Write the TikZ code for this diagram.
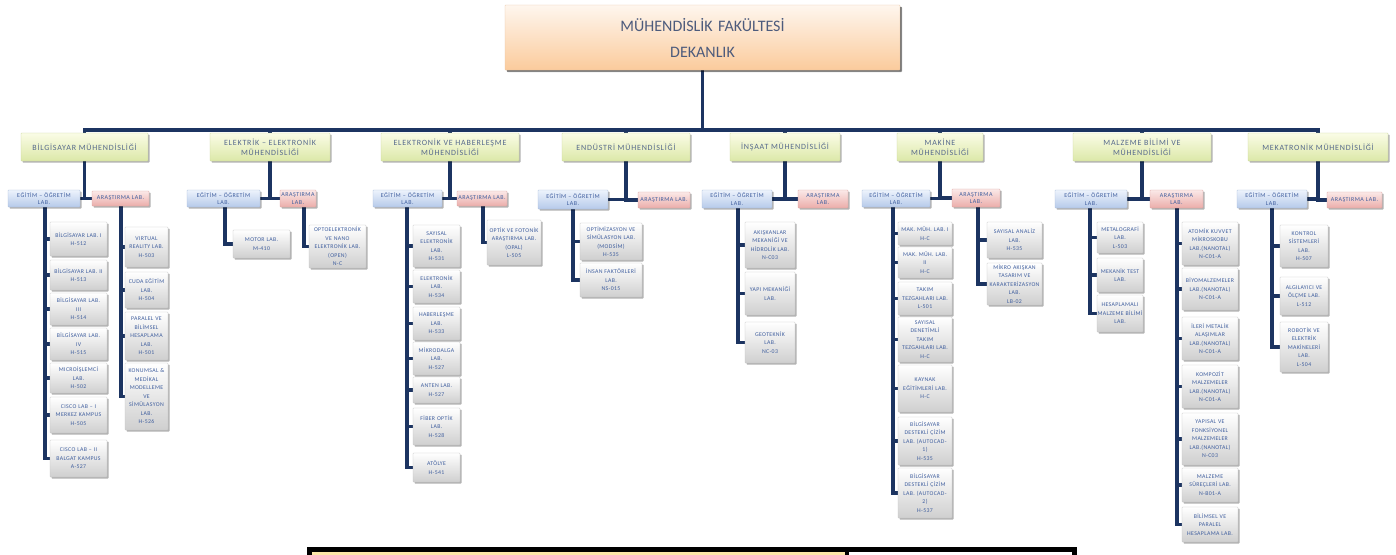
\documentclass[tikz,border=0pt]{standalone}
\usepackage{fontspec}
\setmainfont{Carlito}
\newfontfamily\leaffont[LetterSpace=6]{Carlito}
\newfontfamily\edufont[LetterSpace=8]{Carlito}
\newfontfamily\deptfont[LetterSpace=10]{Carlito}
\usetikzlibrary{shadows}
\pgfdeclarelayer{background}
\pgfsetlayers{background,main}
\definecolor{conncol}{HTML}{1C3461}
\definecolor{leaftext}{HTML}{3F5E9E}
\definecolor{depttext}{HTML}{56698C}
\definecolor{titletext}{HTML}{4D5B7C}
\definecolor{leafbot}{HTML}{CFCFCF}
\definecolor{leafborder}{HTML}{C4C4C4}
\definecolor{edutop}{HTML}{EDF3FC}
\definecolor{edubot}{HTML}{B6CAEA}
\definecolor{eduborder}{HTML}{A9BCDA}
\definecolor{restop}{HTML}{FBE9E8}
\definecolor{resbot}{HTML}{EBADAA}
\definecolor{resborder}{HTML}{DBA2A0}
\definecolor{depttop}{HTML}{FAFCE6}
\definecolor{deptbot}{HTML}{DCE8A8}
\definecolor{deptborder}{HTML}{C9D69A}
\definecolor{titletop}{HTML}{FEF6EE}
\definecolor{titlebot}{HTML}{FBCB9C}
\definecolor{titleborder}{HTML}{E8C4A0}
\definecolor{tablein}{HTML}{FCE6A8}
\newcommand\bx[7]{%
  \pgfmathsetmacro\bxcx{(#3+#5)/2}%
  \pgfmathsetmacro\bxcy{(#4+#6)/2}%
  \pgfmathsetmacro\bxw{#5-#3}%
  \pgfmathsetmacro\bxh{#6-#4}%
  \node[#2, minimum width=\bxw pt, minimum height=\bxh pt, text width=\bxw pt] (#1) at (\bxcx,\bxcy) {#7};}
\tikzset{
  conn/.style={draw=conncol, line width=3.1pt},
  basebox/.style={inner sep=0pt, align=center, rounded corners=0.6pt,
    drop shadow={shadow xshift=1.5pt, shadow yshift=-1.5pt, opacity=0.3, fill=black}},
  leaf/.style={basebox, top color=white, bottom color=leafbot, draw=leafborder, line width=0.4pt,
    font=\leaffont\fontsize{5.8}{8.5}\selectfont, text=leaftext},
  edu/.style={basebox, top color=edutop, bottom color=edubot, draw=eduborder, line width=0.4pt,
    font=\edufont\fontsize{6}{7.6}\selectfont, text=leaftext},
  res/.style={basebox, top color=restop, bottom color=resbot, draw=resborder, line width=0.4pt,
    font=\edufont\fontsize{6}{7.6}\selectfont, text=leaftext},
  dept/.style={basebox, top color=depttop, bottom color=deptbot, draw=deptborder, line width=0.4pt,
    font=\deptfont\fontsize{8}{10}\selectfont, text=depttext},
  titlebox/.style={basebox, top color=titletop, bottom color=titlebot, draw=titleborder, line width=0.4pt,
    font=\fontsize{16}{26}\selectfont, text=titletext,
    drop shadow={shadow xshift=2pt, shadow yshift=-2pt, opacity=0.35, fill=black}}
}
\begin{document}
\begin{tikzpicture}[x=1pt,y=-1pt]
\begin{pgfonlayer}{background}
\fill[white] (0,0) rectangle (1396,554);
\end{pgfonlayer}
\useasboundingbox (0,0) rectangle (1396,554);

% title
\bx{title}{titlebox}{505}{5}{900}{70}{MÜHENDİSLİK FAKÜLTESİ\\DEKANLIK}
\coordinate (busy) at (0,130);

% departments
\bx{d1}{dept}{21}{133}{148}{161}{BİLGİSAYAR MÜHENDİSLİĞİ}
\bx{d2}{dept}{210}{133}{330}{161}{ELEKTRİK – ELEKTRONİK\\MÜHENDİSLİĞİ}
\bx{d3}{dept}{381}{133}{519}{161}{ELEKTRONİK VE HABERLEŞME\\MÜHENDİSLİĞİ}
\bx{d4}{dept}{562}{133}{690}{161}{ENDÜSTRİ MÜHENDİSLİĞİ}
\bx{d5}{dept}{730}{133}{840}{161}{İNŞAAT MÜHENDİSLİĞİ}
\bx{d6}{dept}{897}{133}{983}{161}{MAKİNE\\MÜHENDİSLİĞİ}
\bx{d7}{dept}{1073}{133}{1211}{161}{MALZEME BİLİMİ VE\\MÜHENDİSLİĞİ}
\bx{d8}{dept}{1248}{133}{1388}{161}{MEKATRONİK MÜHENDİSLİĞİ}

% education / research
\bx{e1}{edu}{8}{190}{80}{207}{EĞİTİM – ÖĞRETİM\\LAB.}
\bx{a1}{res}{92}{191}{149}{206}{ARAŞTIRMA LAB.}
\bx{e2}{edu}{187}{190}{260}{207}{EĞİTİM – ÖĞRETİM\\LAB.}
\bx{a2}{res}{280}{190}{316}{207}{ARAŞTIRMA\\LAB.}
\bx{e3}{edu}{373}{190}{442}{207}{EĞİTİM – ÖĞRETİM\\LAB.}
\bx{a3}{res}{457}{191}{507}{206}{ARAŞTIRMA LAB.}
\bx{e4}{edu}{538}{190}{608}{209}{EĞİTİM – ÖĞRETİM\\LAB.}
\bx{a4}{res}{638}{192}{690}{208}{ARAŞTIRMA LAB.}
\bx{e5}{edu}{702}{190}{772}{208}{EĞİTİM – ÖĞRETİM\\LAB.}
\bx{a5}{res}{798}{190}{848}{208}{ARAŞTIRMA\\LAB.}
\bx{e6}{edu}{862}{190}{930}{207}{EĞİTİM – ÖĞRETİM\\LAB.}
\bx{a6}{res}{952}{189}{1000}{207}{ARAŞTIRMA\\LAB.}
\bx{e7}{edu}{1055}{190}{1127}{208}{EĞİTİM – ÖĞRETİM\\LAB.}
\bx{a7}{res}{1150}{190}{1203}{208}{ARAŞTIRMA\\LAB.}
\bx{e8}{edu}{1237}{190}{1307}{208}{EĞİTİM – ÖĞRETİM\\LAB.}
\bx{a8}{res}{1327}{192}{1382}{208}{ARAŞTIRMA LAB.}

% column 1
\bx{c11}{leaf}{50}{222}{107}{256}{BİLGİSAYAR LAB. I\\H-512}
\bx{c12}{leaf}{50}{260}{107}{290}{BİLGİSAYAR LAB. II\\H-513}
\bx{c13}{leaf}{50}{293}{107}{325}{BİLGİSAYAR LAB.\\III\\H-514}
\bx{c14}{leaf}{50}{328}{107}{360}{BİLGİSAYAR LAB.\\IV\\H-515}
\bx{c15}{leaf}{50}{363}{107}{393}{MICROİŞLEMCİ\\LAB.\\H-502}
\bx{c16}{leaf}{50}{397}{107}{433}{CISCO LAB – I\\MERKEZ KAMPUS\\H-505}
\bx{c17}{leaf}{50}{440}{107}{477}{CISCO LAB – II\\BALGAT KAMPUS\\A-527}
\bx{r11}{leaf}{125}{227}{168}{267}{VIRTUAL\\REALITY LAB.\\H-503}
\bx{r12}{leaf}{125}{272}{168}{308}{CUDA EĞİTİM\\LAB.\\H-504}
\bx{r13}{leaf}{125}{312}{168}{360}{PARALEL VE\\BİLİMSEL\\HESAPLAMA\\LAB.\\H-501}
\bx{r14}{leaf}{125}{363}{168}{430}{KONUMSAL \&\\MEDİKAL\\MODELLEME\\VE\\SİMÜLASYON\\LAB.\\H-526}

% column 2
\bx{c21}{leaf}{233}{230}{290}{258}{MOTOR LAB.\\M-410}
\bx{r21}{leaf}{309}{225}{366}{268}{OPTOELEKTRONİK\\VE NANO\\ELEKTRONİK LAB.\\(OPEN)\\N-C}

% column 3
\bx{c31}{leaf}{413}{225}{460}{267}{SAYISAL\\ELEKTRONİK\\LAB.\\H-531}
\bx{c32}{leaf}{413}{270}{460}{303}{ELEKTRONİK\\LAB.\\H-534}
\bx{c33}{leaf}{413}{307}{460}{340}{HABERLEŞME\\LAB.\\H-533}
\bx{c34}{leaf}{413}{342}{460}{375}{MİKRODALGA\\LAB.\\H-527}
\bx{c35}{leaf}{413}{377}{460}{403}{ANTEN LAB.\\H-527}
\bx{c36}{leaf}{413}{408}{460}{445}{FİBER OPTİK\\LAB.\\H-528}
\bx{c37}{leaf}{413}{453}{460}{482}{ATÖLYE\\H-541}
\bx{r31}{leaf}{487}{220}{541}{265}{OPTİK VE FOTONİK\\ARAŞTIRMA LAB.\\(OPAL)\\L-505}

% column 4
\bx{c41}{leaf}{580}{223}{642}{260}{OPTİMİZASYON VE\\SİMÜLASYON LAB.\\(MODSİM)\\H-535}
\bx{c42}{leaf}{580}{263}{642}{297}{İNSAN FAKTÖRLERİ\\LAB.\\NS-015}

% column 5
\bx{c51}{leaf}{745}{222}{795}{268}{AKIŞKANLAR\\MEKANİĞİ VE\\HİDROLİK LAB.\\N-C03}
\bx{c52}{leaf}{745}{272}{795}{315}{YAPI MEKANİĞİ\\LAB.}
\bx{c53}{leaf}{745}{322}{795}{363}{GEOTEKNİK\\LAB.\\NC-03}

% column 6
\bx{c61}{leaf}{898}{222}{952}{245}{MAK. MÜH. LAB. I\\H-C}
\bx{c62}{leaf}{898}{247}{952}{278}{MAK. MÜH. LAB.\\II\\H-C}
\bx{c63}{leaf}{898}{282}{952}{315}{TAKIM\\TEZGAHLARI LAB.\\L-501}
\bx{c64}{leaf}{898}{317}{952}{362}{SAYISAL\\DENETİMLİ\\TAKIM\\TEZGAHLARI LAB.\\H-C}
\bx{c65}{leaf}{898}{365}{952}{412}{KAYNAK\\EĞİTİMLERİ LAB.\\H-C}
\bx{c66}{leaf}{898}{417}{952}{465}{BİLGİSAYAR\\DESTEKLİ ÇİZİM\\LAB. (AUTOCAD-\\1)\\H-535}
\bx{c67}{leaf}{898}{468}{952}{518}{BİLGİSAYAR\\DESTEKLİ ÇİZİM\\LAB. (AUTOCAD-\\2)\\H-537}
\bx{r61}{leaf}{987}{222}{1042}{258}{SAYISAL ANALİZ\\LAB.\\H-535}
\bx{r62}{leaf}{987}{263}{1042}{305}{MİKRO AKIŞKAN\\TASARIM VE\\KARAKTERİZASYON\\LAB.\\LB-02}

% column 7
\bx{c71}{leaf}{1097}{222}{1143}{253}{METALOGRAFİ\\LAB.\\L-503}
\bx{c72}{leaf}{1097}{258}{1143}{292}{MEKANİK TEST\\LAB.}
\bx{c73}{leaf}{1097}{295}{1143}{332}{HESAPLAMALI\\MALZEME BİLİMİ\\LAB.}
\bx{r71}{leaf}{1182}{222}{1238}{265}{ATOMİK KUVVET\\MİKROSKOBU\\LAB.(NANOTAL)\\N-C01-A}
\bx{r72}{leaf}{1182}{268}{1238}{310}{BİYOMALZEMELER\\LAB.(NANOTAL)\\N-C01-A}
\bx{r73}{leaf}{1182}{317}{1238}{360}{İLERİ METALİK\\ALAŞIMLAR\\LAB.(NANOTAL)\\N-C01-A}
\bx{r74}{leaf}{1182}{365}{1238}{408}{KOMPOZİT\\MALZEMELER\\LAB.(NANOTAL)\\N-C01-A}
\bx{r75}{leaf}{1182}{413}{1238}{465}{YAPISAL VE\\FONKSİYONEL\\MALZEMELER\\LAB.(NANOTAL)\\N-C03}
\bx{r76}{leaf}{1182}{468}{1238}{502}{MALZEME\\SÜREÇLERİ LAB.\\N-B01-A}
\bx{r77}{leaf}{1182}{507}{1238}{542}{BİLİMSEL VE\\PARALEL\\HESAPLAMA LAB.}

% column 8
\bx{c81}{leaf}{1280}{225}{1328}{267}{KONTROL\\SİSTEMLERİ\\LAB.\\H-507}
\bx{c82}{leaf}{1280}{277}{1328}{315}{ALGILAYICI VE\\ÖLÇME LAB.\\L-512}
\bx{c83}{leaf}{1280}{322}{1328}{372}{ROBOTİK VE\\ELEKTRİK\\MAKİNELERİ\\LAB.\\L-504}

% vertical line positions
\coordinate (v1e) at (45,0);   \coordinate (v1a) at (121,0);
\coordinate (v2e) at (225,0);  \coordinate (v2a) at (304,0);
\coordinate (v3e) at (407,0);  \coordinate (v3a) at (483,0);
\coordinate (v4e) at (573,0);
\coordinate (v5e) at (738,0);
\coordinate (v6e) at (893,0);  \coordinate (v6a) at (978,0);
\coordinate (v7e) at (1090,0); \coordinate (v7a) at (1177,0);
\coordinate (v8e) at (1272,0);

\begin{pgfonlayer}{background}
  % trunk and bus
  \draw[conn] (title.south) -- (title.south |- busy);
  \draw[conn] (d1.north) -- (d1.north |- busy) -- (d8.north |- busy) -- (d8.north);
  \foreach \d in {d2,d3,d4,d5,d6,d7} \draw[conn] (\d.north |- busy) -- (\d.north);
  % department to edu / research
  \foreach \i in {1,...,8} {
    \draw[conn] (d\i.south) |- (e\i.east);
    \draw[conn] (d\i.south) |- (a\i.west);
  }
  % leaves
  \foreach \c in {c11,c12,c13,c14,c15,c16,c17} \draw[conn] (e1.south -| v1e) |- (\c.west);
  \foreach \c in {r11,r12,r13,r14} \draw[conn] (a1.south -| v1a) |- (\c.west);
  \draw[conn] (e2.south -| v2e) |- (c21.west);
  \draw[conn] (a2.south -| v2a) |- (r21.west);
  \foreach \c in {c31,c32,c33,c34,c35,c36,c37} \draw[conn] (e3.south -| v3e) |- (\c.west);
  \draw[conn] (a3.south -| v3a) |- (r31.west);
  \foreach \c in {c41,c42} \draw[conn] (e4.south -| v4e) |- (\c.west);
  \foreach \c in {c51,c52,c53} \draw[conn] (e5.south -| v5e) |- (\c.west);
  \foreach \c in {c61,c62,c63,c64,c65,c66,c67} \draw[conn] (e6.south -| v6e) |- (\c.west);
  \foreach \c in {r61,r62} \draw[conn] (a6.south -| v6a) |- (\c.west);
  \foreach \c in {c71,c72,c73} \draw[conn] (e7.south -| v7e) |- (\c.west);
  \foreach \c in {r71,r72,r73,r74,r75,r76,r77} \draw[conn] (a7.south -| v7a) |- (\c.west);
  \foreach \c in {c81,c82,c83} \draw[conn] (e8.south -| v8e) |- (\c.west);
\end{pgfonlayer}

% table edge at the bottom
\fill[black] (307,547) rectangle (1077,562);
\fill[tablein] (312,552) rectangle (845,562);
\fill[white] (849,552) rectangle (1072,562);
\end{tikzpicture}
\end{document}
